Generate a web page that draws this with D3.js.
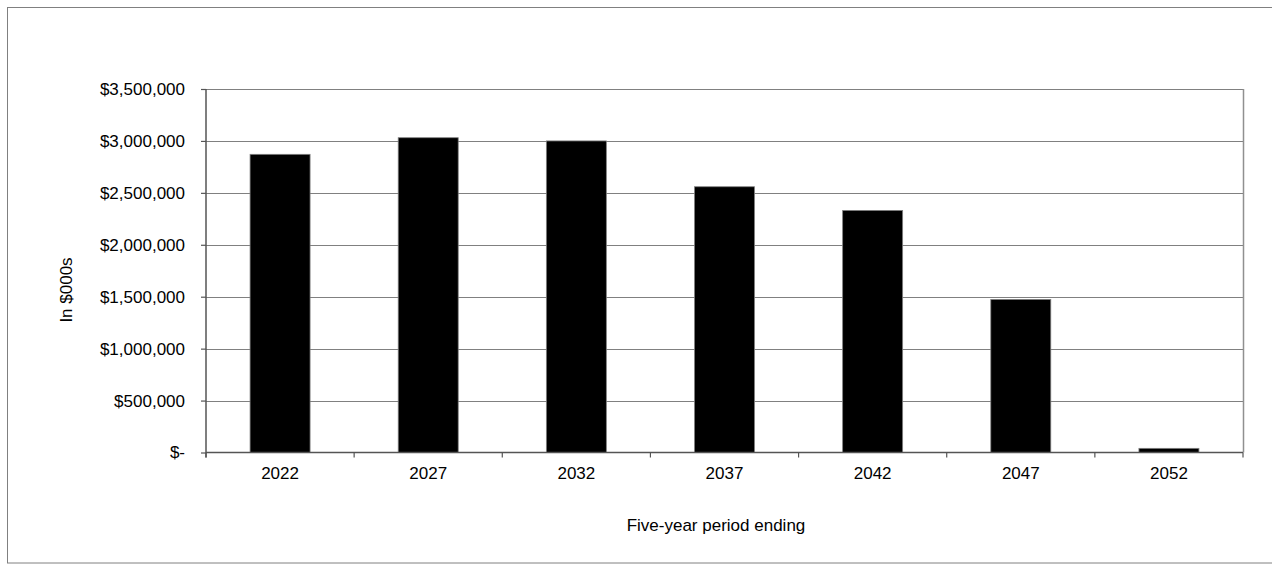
<!DOCTYPE html>
<html>
<head>
<meta charset="utf-8">
<script src="https://cdn.jsdelivr.net/npm/d3@7"></script>
<style>
  html, body { margin: 0; padding: 0; background: #fff; }
  svg { display: block; }
  text { font-family: "Liberation Sans", Arial, sans-serif; fill: #000; }
</style>
</head>
<body>
<svg id="chart" width="1272" height="564"></svg>
<script>
const categories = ["2022", "2027", "2032", "2037", "2042", "2047", "2052"];
const values = [2871000, 3031000, 3000000, 2559000, 2331000, 1474000, 40000];
const yTicks = [0, 500000, 1000000, 1500000, 2000000, 2500000, 3000000, 3500000];
const yTitle = "In $000s";
const xTitle = "Five-year period ending";

(function () {
const svg = d3.select("#chart");
const pL = 206, pR = 1243, pT = 89, pB = 452.5;

// outer chart border
svg.append("rect")
  .attr("x", 7.5).attr("y", 7.5)
  .attr("width", 1275).attr("height", 555.5)
  .attr("fill", "none").attr("stroke", "#808080").attr("stroke-width", 1);

const x = d3.scaleBand().domain(categories).range([pL, pR]).paddingInner(0.595).paddingOuter(0.2975);
const y = d3.scaleLinear().domain([0, 3500000]).range([pB, pT]);

const fmt = v => v === 0 ? "$-" : "$" + d3.format(",")(v);

// gridlines
svg.append("g").selectAll("line").data(yTicks.filter(d => d > 0)).join("line")
  .attr("x1", pL).attr("x2", pR)
  .attr("y1", d => Math.round(y(d)) + 0.5).attr("y2", d => Math.round(y(d)) + 0.5)
  .attr("stroke", "#808080").attr("stroke-width", 1.2);

// plot right border
svg.append("line")
  .attr("x1", pR + 0.5).attr("x2", pR + 0.5)
  .attr("y1", pT).attr("y2", pB)
  .attr("stroke", "#909090").attr("stroke-width", 1.5);

// bars
svg.append("g").selectAll("rect").data(values).join("rect")
  .attr("x", (d, i) => x(categories[i]))
  .attr("y", d => y(d))
  .attr("width", x.bandwidth())
  .attr("height", d => pB - y(d))
  .attr("fill", "#000")
  .attr("stroke", "#808080").attr("stroke-width", 0.8);

// y axis
const yAxis = d3.axisLeft(y).tickValues(yTicks).tickFormat(fmt).tickSize(5).tickPadding(16);
const gy = svg.append("g").attr("transform", `translate(${pL},0)`).call(yAxis);
gy.select(".domain").attr("stroke", "#555").attr("stroke-width", 1.5).attr("d", `M0,${pT}V${pB + 5}`);
gy.selectAll(".tick line").attr("stroke", "#555").attr("stroke-width", 1.2);
gy.selectAll(".tick text").style("font-size", "17px").style("font-family", "'Liberation Sans', Arial, sans-serif").attr("fill", "#000");

// x axis
const xAxis = d3.axisBottom(x).tickSize(0).tickPadding(14);
const gx = svg.append("g").attr("transform", `translate(0,${pB})`).call(xAxis);
gx.select(".domain").attr("stroke", "#555").attr("stroke-width", 1.5).attr("d", `M${pL},0H${pR}`);
gx.selectAll(".tick text").style("font-size", "17px").style("font-family", "'Liberation Sans', Arial, sans-serif").attr("fill", "#000");

// x tick marks at band boundaries
const boundaries = d3.range(categories.length + 1).map(i => pL + i * x.step());
svg.append("g").selectAll("line").data(boundaries).join("line")
  .attr("x1", d => d).attr("x2", d => d)
  .attr("y1", pB).attr("y2", pB + 5)
  .attr("stroke", "#555").attr("stroke-width", 1.2);

// titles
svg.append("text")
  .attr("transform", "translate(72,290) rotate(-90)")
  .attr("text-anchor", "middle")
  .style("font-size", "17px")
  .text(yTitle);

svg.append("text")
  .attr("x", 716).attr("y", 531)
  .attr("text-anchor", "middle")
  .style("font-size", "17px")
  .text(xTitle);
})();
</script>
</body>
</html>
